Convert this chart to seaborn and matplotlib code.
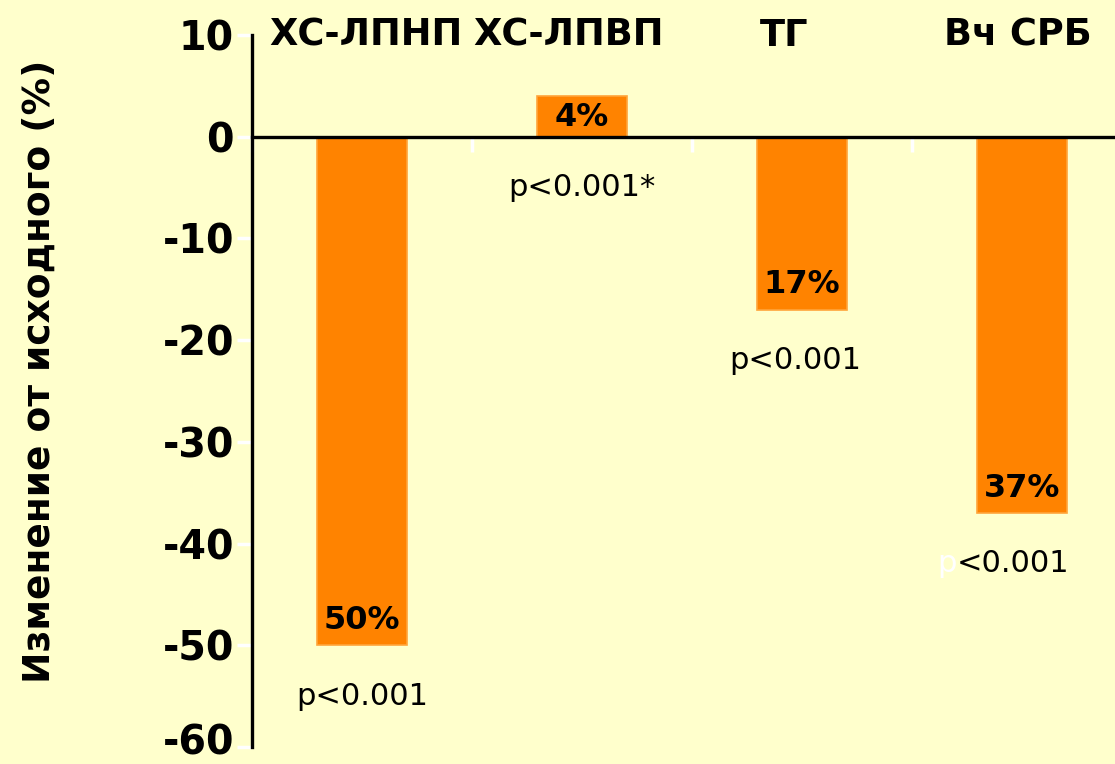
import matplotlib
matplotlib.use("Agg")
import matplotlib.pyplot as plt
import matplotlib.transforms as mtransforms
import seaborn as sns
import pandas as pd

# Change from baseline for each lipid / inflammation marker
categories = ["ХС-ЛПНП", "ХС-ЛПВП", "ТГ", "Вч СРБ"]
values = [-50, 4, -17, -37]
pct_labels = ["50%", "4%", "17%", "37%"]
p_labels = ["p<0.001", "p<0.001*", "p<0.001", "p<0.001"]
yticks = [10, 0, -10, -20, -30, -40, -50, -60]

BG = "#FFFFCC"
BAR = "#FF8300"

sns.set_theme(style="white")
plt.rcParams["font.family"] = ["DejaVu Sans"]

df = pd.DataFrame({"cat": categories, "val": values})

fig = plt.figure(figsize=(11.15, 7.64), dpi=100, facecolor=BG)
ax = fig.add_axes([252 / 1115, 17 / 764, 880 / 1115, 712 / 764])
ax.set_facecolor(BG)

sns.barplot(data=df, x="cat", y="val", color=BAR, width=0.41,
            edgecolor="#FFA43A", linewidth=1.2, saturation=1, ax=ax, zorder=2)

ax.set_ylim(-60, 10)
ax.set_xlim(-0.5, 3.5)
ax.set_yticks(yticks)
ax.set_yticklabels([str(t) for t in yticks], fontsize=28.5, fontweight="bold",
                   color="black")
ax.tick_params(axis="y", direction="out", length=11, width=2.5, color="white",
               pad=2, left=True)
# keep the lowest tick label inside the canvas
lift = mtransforms.ScaledTranslation(0, 8 / 100, fig.dpi_scale_trans)
bottom_label = ax.get_yticklabels()[-1]
bottom_label.set_transform(bottom_label.get_transform() + lift)

# category separators hanging below the zero line
ax.set_xticks([-0.5, 0.5, 1.5, 2.5, 3.5])
ax.set_xticklabels([])
ax.tick_params(axis="x", direction="out", length=11, width=2.5, color="white",
               bottom=True)
ax.set_xlabel("")

for side in ["top", "right"]:
    ax.spines[side].set_visible(False)
ax.spines["left"].set_color("black")
ax.spines["left"].set_linewidth(2.4)
ax.spines["bottom"].set_position(("data", 0))
ax.spines["bottom"].set_color("black")
ax.spines["bottom"].set_linewidth(2.4)
ax.spines["bottom"].set_zorder(3)

ax.set_ylabel("Изменение от исходного (%)", fontsize=27, fontweight="bold",
              color="black")
ax.yaxis.set_label_coords(-194 / 880, 0.527)

# category names along the top
name_offsets = [0.02, -0.06, -0.08, -0.02]
for i, (name, off) in enumerate(zip(categories, name_offsets)):
    ax.text(i + off, 10, name, ha="center", va="center", fontsize=26.5,
            fontweight="bold", color="black", clip_on=False)

# magnitude labels inside the bars and p-values beneath them
for i, (v, lab, p) in enumerate(zip(values, pct_labels, p_labels)):
    if v < 0:
        ax.text(i, v + 2.45, lab, ha="center", va="center", fontsize=23,
                fontweight="bold", color="black", zorder=4)
    else:
        ax.text(i, v - 2.1, lab, ha="center", va="center", fontsize=23,
                fontweight="bold", color="black", zorder=4)
    py = v - 5.0 if v < 0 else -5.0
    if i == 3:
        ax.text(i - 0.295, py, "p", ha="right", va="center", fontsize=22,
                color="white", clip_on=False)
        ax.text(i - 0.295, py, p[1:], ha="left", va="center", fontsize=22,
                color="black", clip_on=False)
    else:
        ax.text(i - (0.03 if i == 2 else 0), py, p, ha="center", va="center",
                fontsize=22, color="black")

fig.savefig("out.png", dpi=100, facecolor=BG)
